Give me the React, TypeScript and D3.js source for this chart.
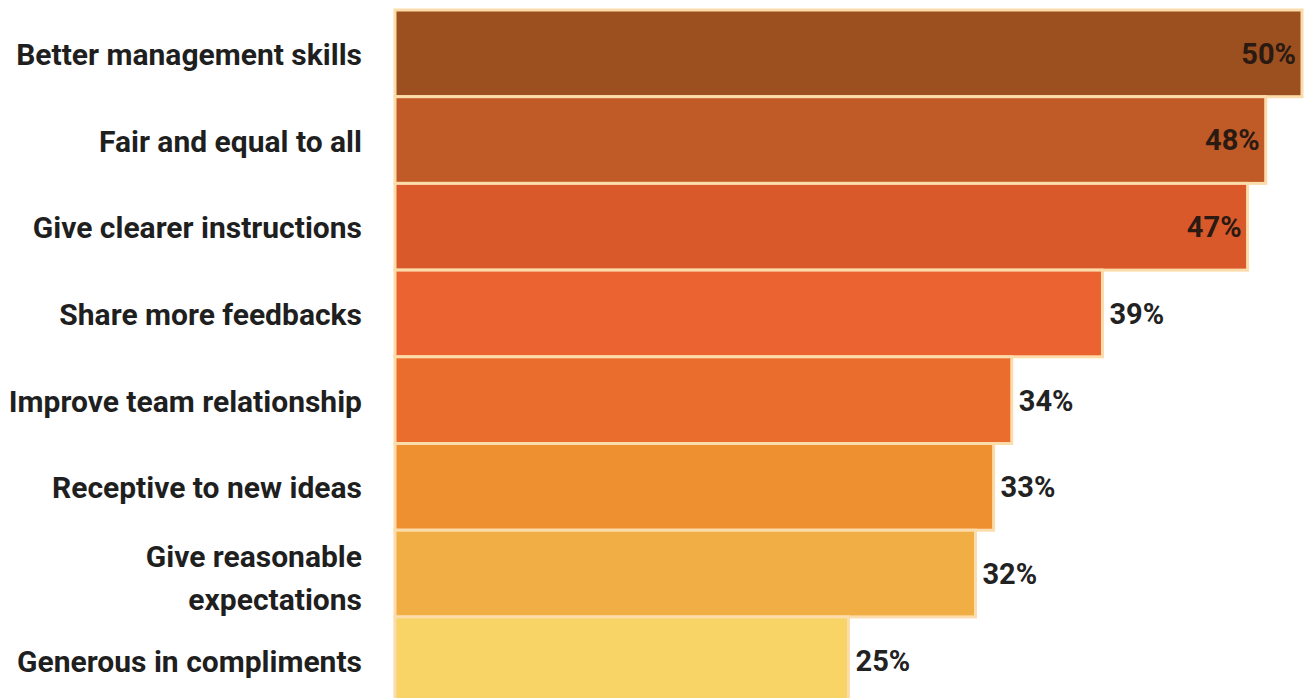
import React from "react";
import * as d3 from "d3";

const categories: string[][] = [
  ["Better management skills"],
  ["Fair and equal to all"],
  ["Give clearer instructions"],
  ["Share more feedbacks"],
  ["Improve team relationship"],
  ["Receptive to new ideas"],
  ["Give reasonable", "expectations"],
  ["Generous in compliments"],
];
const values: number[] = [50, 48, 47, 39, 34, 33, 32, 25];
const colors: string[] = [
  "#9c4f1f",
  "#c05b27",
  "#d9592b",
  "#ea6330",
  "#eb6d2e",
  "#ee8f30",
  "#f1ae45",
  "#f8d366",
];
const insideLabelCount = 3;

const W = 1306;
const H = 698;

export default function App() {
  const keys = categories.map((c) => c.join(" "));
  const x = d3.scaleLinear().domain([0, 50]).range([395, 1302]);
  const y = d3.scaleBand<string>().domain(keys).range([10, 10 + 8 * 86.7]).padding(0);

  return (
    <svg
      width={W}
      height={H}
      style={{ position: "absolute", left: 0, top: 0, background: "#fff" }}
      fontFamily="Roboto, 'Noto Sans', sans-serif"
    >
      <rect x={0} y={0} width={W} height={H} fill="#fff" />
      {keys.map((k, i) => {
        const y0 = y(k) as number;
        const bw = y.bandwidth();
        const cy = y0 + bw / 2;
        const xEnd = x(values[i]);
        const inside = i < insideLabelCount;
        const lines = categories[i];
        const multi = lines.length > 1;
        return (
          <g key={k}>
            <rect
              x={x(0)}
              y={y0}
              width={xEnd - x(0)}
              height={bw}
              fill={colors[i]}
              stroke="#fcdcaa"
              strokeWidth={3}
            />
            {lines.map((ln, j) => (
              <text
                key={j}
                x={362}
                y={cy + (j - (lines.length - 1) / 2) * 43 + (multi ? 4 : 1)}
                dy="0.35em"
                textAnchor="end"
                fontSize={30}
                fontWeight={700}
                fill="#1f1f1f"
              >
                {ln}
              </text>
            ))}
            <text
              x={inside ? xEnd - 6 : xEnd + 7}
              y={cy}
              dy="0.36em"
              textAnchor={inside ? "end" : "start"}
              fontSize={29}
              fontWeight={700}
              fill={inside ? "#2a1a12" : "#222"}
            >
              {values[i] + "%"}
            </text>
          </g>
        );
      })}
    </svg>
  );
}
